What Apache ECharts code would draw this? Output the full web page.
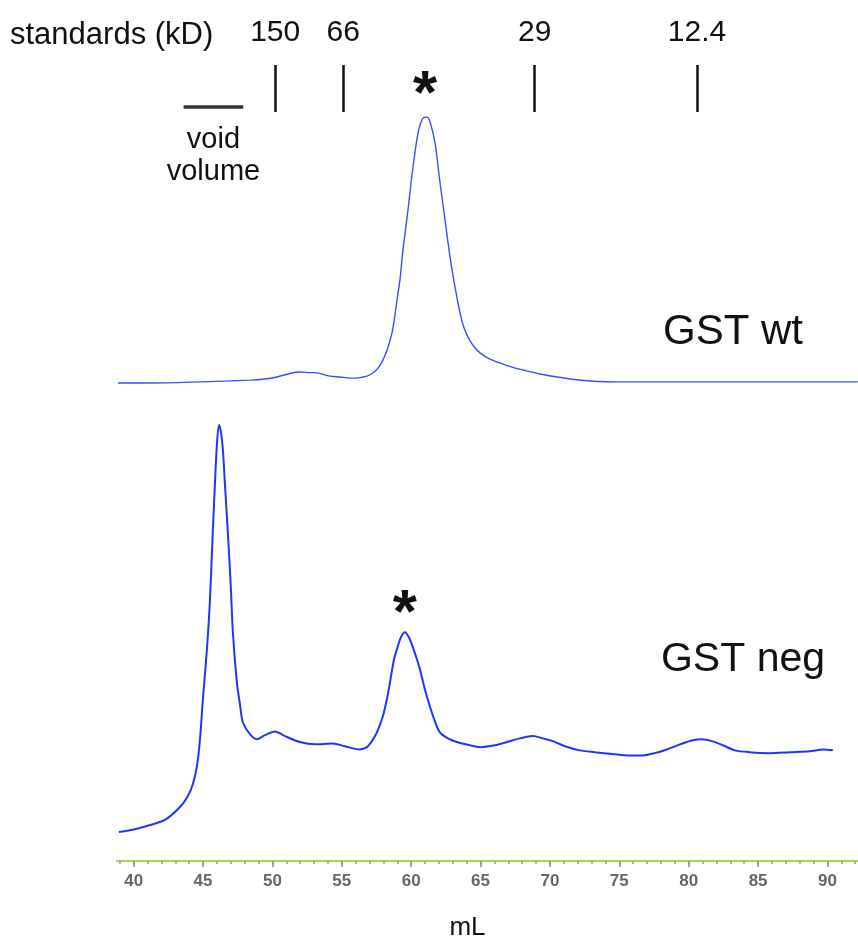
<!DOCTYPE html>
<html>
<head>
<meta charset="utf-8">
<script src="https://cdn.jsdelivr.net/npm/echarts@6/dist/echarts.min.js"></script>
<style>
  html, body { margin: 0; padding: 0; background: #fff; }
  #chart { width: 858px; height: 942px; }
</style>
</head>
<body>
<div id="chart"></div>
<script>
// elution volume (mL) / absorbance
const wtVolume = [38.87, 41.17, 44.78, 48.38, 49.46, 50.32, 51.26, 51.98, 52.70, 53.20, 54.14, 54.86, 55.58, 56.09, 56.52, 56.82, 57.18, 57.54, 57.90, 58.26, 58.62, 58.83, 59.05, 59.19, 59.41, 59.77, 60.13, 60.49, 60.71, 60.92, 61.14, 61.36, 61.72, 62.08, 62.44, 62.80, 63.16, 63.52, 63.74, 64.02, 64.24, 64.60, 64.96, 65.46, 65.90, 66.40, 67.27, 68.06, 69.28, 70.51, 71.81, 72.89, 75.05, 80.80, 86.57, 92.19];
const wtSignal = [2.4, 2.4, 2.8, 3.4, 3.8, 4.5, 5.7, 6.2, 6.0, 5.9, 4.8, 4.5, 4.1, 4.1, 4.5, 4.8, 5.7, 7.1, 9.7, 13.8, 19.7, 25.9, 33.4, 37.9, 48.3, 62.1, 76.9, 88.6, 92.4, 94.0, 94.1, 92.4, 85.2, 71.4, 58.6, 45.9, 35.5, 26.6, 22.4, 19.0, 16.9, 14.5, 12.8, 11.2, 10.2, 9.3, 7.9, 6.9, 5.5, 4.5, 3.6, 3.1, 2.8, 2.8, 2.8, 2.8];

const negVolume = [38.94, 40.1, 41.17, 42.25, 43.34, 43.91, 44.27, 44.56, 44.78, 44.99, 45.28, 45.50, 45.71, 45.86, 46.0, 46.15, 46.29, 46.43, 46.58, 46.79, 47.01, 47.15, 47.44, 47.66, 47.87, 48.38, 48.88, 49.46, 50.18, 50.9, 51.98, 53.06, 54.36, 55.22, 56.30, 56.81, 57.17, 57.53, 57.96, 58.25, 58.47, 58.76, 58.97, 59.26, 59.55, 59.84, 60.13, 60.42, 60.63, 60.99, 61.35, 61.71, 62.07, 62.65, 63.30, 64.23, 64.95, 66.04, 66.90, 67.84, 68.77, 69.49, 70.21, 71.08, 72.16, 73.24, 74.54, 75.76, 76.70, 77.56, 78.43, 79.37, 80.30, 80.95, 81.67, 82.47, 83.33, 84.41, 85.85, 87.29, 88.73, 89.67, 90.39];
const negSignal = [6.3, 6.9, 7.8, 8.9, 11.7, 14.1, 16.7, 20.6, 26.4, 35.1, 45.9, 56.7, 71.9, 82.0, 90.3, 94.6, 93.1, 89.2, 81.6, 71.2, 58.9, 49.6, 38.7, 34.0, 30.1, 27.5, 26.4, 27.3, 28.1, 27.1, 25.8, 25.3, 25.5, 24.9, 24.2, 24.7, 26.0, 27.9, 31.4, 35.1, 38.7, 43.7, 45.9, 48.5, 49.6, 48.5, 46.3, 43.7, 41.6, 37.2, 33.5, 30.3, 27.9, 26.6, 25.8, 25.1, 24.7, 25.1, 25.8, 26.6, 27.1, 26.6, 26.0, 24.9, 24.0, 23.6, 23.2, 22.9, 22.9, 23.4, 24.2, 25.3, 26.2, 26.4, 26.0, 25.1, 24.0, 23.6, 23.4, 23.6, 23.8, 24.2, 24.0];

// molecular weight standards
const standardsKd = ['150', '66', '29', '12.4'];
const standardsVolume = [50.2, 55.1, 68.9, 80.6];
const voidVolume = [43.6, 47.9];

// x axis
const tickLabels = [40, 45, 50, 55, 60, 65, 70, 75, 80, 85, 90];
const minorTicks = [39, 40, 41, 42, 43, 44, 45, 46, 47, 48, 49, 50, 51, 52, 53, 54, 55, 56, 57, 58, 59, 60, 61, 62, 63, 64, 65, 66, 67, 68, 69, 70, 71, 72, 73, 74, 75, 76, 77, 78, 79, 80, 81, 82, 83, 84, 85, 86, 87, 88, 89, 90, 91, 92];
const xMin = 38.8;
const xMax = 92.2;

const FONT = '"Liberation Sans", Arial, sans-serif';

const zip = (xs, ys) => xs.map((x, i) => [x, ys[i]]);

const chart = echarts.init(document.getElementById('chart'));

const hiddenX = (gridIndex) => ({ type: 'value', gridIndex, min: xMin, max: xMax, show: false });

// little "*" above a peak
const star = (coord, dy) => ({
  silent: true,
  symbol: 'circle',
  symbolSize: 1,
  itemStyle: { color: 'rgba(0,0,0,0)' },
  label: { show: true, position: 'top', formatter: '*', fontSize: 62, fontWeight: 'bold', color: '#111', distance: 0, offset: [0, dy] },
  data: [{ coord }]
});

chart.setOption({
  animation: false,
  backgroundColor: '#fff',
  textStyle: { fontFamily: FONT },
  title: {
    text: 'standards (kD)',
    left: 10,
    top: 20,
    padding: 0,
    textStyle: { fontSize: 31, fontWeight: 'normal', color: '#111', fontFamily: FONT }
  },
  grid: [
    { left: 117, right: 0, top: 65, height: 47 },
    { left: 117, right: 0, top: 100, height: 290 },
    { left: 117, right: 0, top: 400, height: 462 }
  ],
  xAxis: [
    hiddenX(0),
    hiddenX(1),
    {
      type: 'value', gridIndex: 2, min: xMin, max: xMax, position: 'bottom',
      name: 'mL', nameLocation: 'middle', nameGap: 54,
      nameTextStyle: { fontSize: 26, color: '#111', padding: [0, 40, 0, 0] },
      axisLine: { show: true, lineStyle: { color: '#a8d94a', width: 2 } },
      axisTick: { show: true, customValues: tickLabels, length: 6, lineStyle: { color: '#888', width: 1.5 } },
      axisLabel: { customValues: tickLabels, color: '#666', fontSize: 17, fontWeight: 'bold', margin: 12 },
      splitLine: { show: false }
    },
    {
      type: 'value', gridIndex: 2, min: xMin, max: xMax, position: 'bottom',
      axisLine: { show: false },
      axisTick: { show: true, customValues: minorTicks, length: 3, lineStyle: { color: '#999', width: 1.5 } },
      axisLabel: { show: false },
      splitLine: { show: false }
    }
  ],
  yAxis: [
    { type: 'value', gridIndex: 0, min: 0, max: 1, show: false },
    { type: 'value', gridIndex: 1, min: 0, max: 100, show: false },
    { type: 'value', gridIndex: 2, min: 0, max: 100, show: false }
  ],
  graphic: [
    { type: 'text', x: 733, y: 332, style: { text: 'GST wt', font: '42px ' + FONT, fill: '#111', align: 'center', verticalAlign: 'middle' } },
    { type: 'text', x: 743, y: 660, style: { text: 'GST neg', font: '41px ' + FONT, fill: '#111', align: 'center', verticalAlign: 'middle' } }
  ],
  series: [
    {
      name: 'standards',
      type: 'line',
      xAxisIndex: 0,
      yAxisIndex: 0,
      data: [],
      markLine: {
        silent: true,
        symbol: ['none', 'none'],
        lineStyle: { color: '#111', width: 2.5, type: 'solid' },
        label: { show: true, position: 'end', formatter: '{b}', fontSize: 30, color: '#111', distance: 17 },
        data: standardsVolume.map((v, i) => ({ name: standardsKd[i], xAxis: v }))
          .concat([[
            {
              name: 'void\nvolume',
              coord: [voidVolume[0], 0.11],
              lineStyle: { color: '#333', width: 3.5 },
              label: { position: 'insideMiddleBottom', fontSize: 29, lineHeight: 32, distance: 17 }
            },
            { coord: [voidVolume[1], 0.11] }
          ]])
      }
    },
    {
      name: 'GST wt',
      type: 'line',
      xAxisIndex: 1,
      yAxisIndex: 1,
      data: zip(wtVolume, wtSignal),
      showSymbol: false,
      smooth: 0.3,
      lineStyle: { color: '#3a4dff', width: 1.4 },
      markPoint: star([61.0, 94.1], 10)
    },
    {
      name: 'GST neg',
      type: 'line',
      xAxisIndex: 2,
      yAxisIndex: 2,
      data: zip(negVolume, negSignal),
      showSymbol: false,
      smooth: 0.3,
      lineStyle: { color: '#1f35ff', width: 2 },
      markPoint: star([59.55, 49.6], 14)
    }
  ]
});
</script>
</body>
</html>
